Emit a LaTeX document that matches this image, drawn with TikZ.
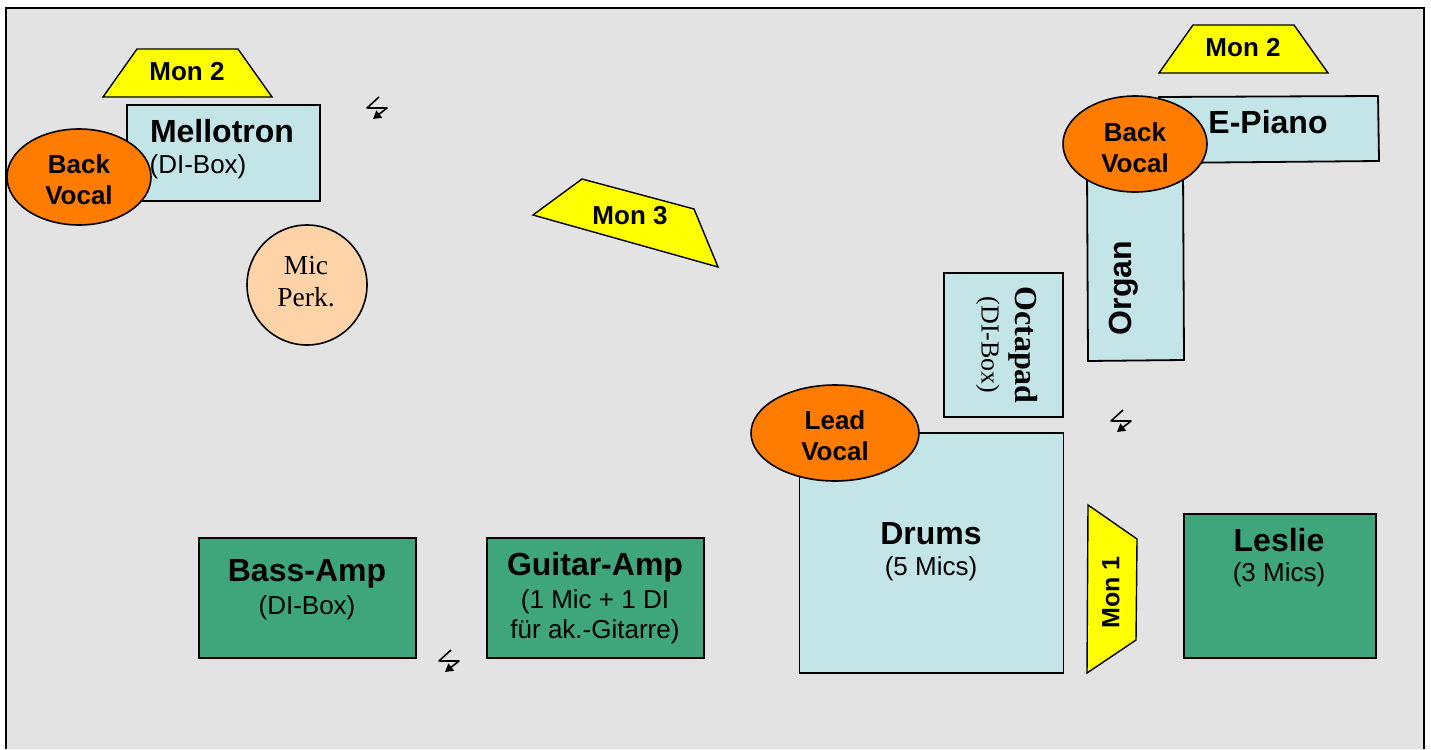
\documentclass[tikz,border=0pt]{standalone}
\usepackage{fontspec}
\setmainfont{Liberation Sans}
\newfontfamily\serifface{Liberation Serif}
\usetikzlibrary{shapes.geometric,arrows.meta}
\definecolor{bgc}{RGB}{227,227,227}
\definecolor{icec}{RGB}{196,229,232}
\definecolor{orangec}{RGB}{255,124,0}
\definecolor{greenc}{RGB}{62,166,122}
\definecolor{peachc}{RGB}{255,211,168}
\definecolor{yellowc}{RGB}{255,255,0}
\newcommand{\bigbf}{\fontsize{32}{33}\selectfont\bfseries}
\newcommand{\smalltx}{\fontsize{26}{33}\selectfont\mdseries}
\tikzset{
  x=1pt,y=-1pt,
  icebox/.style={draw=black,line width=1.8pt,fill=icec,inner sep=0pt,outer sep=0pt},
  ampbox/.style={draw=black,line width=1.8pt,fill=greenc,inner sep=0pt,outer sep=0pt},
  monshape/.style={draw=black,line width=1.4pt,fill=yellowc,line join=miter},
  vocal/.style={draw=black,line width=1.6pt,fill=orangec,ellipse,inner sep=0pt,outer sep=0pt,
    minimum width=144pt,minimum height=96pt},
  vocaltxt/.style={inner sep=0pt,outer sep=0pt,align=center,font=\fontsize{26}{31}\selectfont\bfseries},
  micshape/.style={draw=black,line width=1.6pt,fill=peachc,circle,inner sep=0pt,outer sep=0pt,
    minimum size=120pt},
  mictxt/.style={inner sep=0pt,outer sep=0pt,align=center,font=\fontsize{27.5}{32}\selectfont\serifface},
  lab/.style={inner sep=0pt,outer sep=0pt,align=center,text=black,font=\fontsize{26}{31}\selectfont},
  monlab/.style={lab,font=\fontsize{26}{31}\selectfont\bfseries},
  bolt/.style={draw=black,line width=1.6pt,line join=round,-{Triangle[length=8pt,width=9pt]}},
}
\newcommand{\boltat}[1]{\draw[bolt,shift={(#1)}] (2,-12) -- (-10,-1) -- (10,-1) -- (-4,10);}
\begin{document}
\begin{tikzpicture}
\useasboundingbox (0,0) rectangle (1431,749);
\fill[bgc] (6,8) rectangle (1424,749);
\draw[black,line width=2pt] (6,749) -- (6,8) -- (1424,8) -- (1424,749);

% boxes
\node[icebox,minimum width=193pt,minimum height=96pt] (mellotron) at (223.5,153) {};
\draw[icebox] (1159,97) -- (1378,96) -- (1379,161) -- (1159,163) -- cycle;
\draw[icebox] (1087,170) -- (1183,170) -- (1184,360) -- (1088,361) -- cycle;
\node[icebox,minimum width=119pt,minimum height=144pt] (octapad) at (1003.5,345) {};
\node[icebox,minimum width=264pt,minimum height=240pt] (drums) at (931.5,553) {};
\node[ampbox,minimum width=192pt,minimum height=144pt] (leslie) at (1280,586) {};
\node[ampbox,minimum width=217pt,minimum height=120pt] (bass) at (307.5,598) {};
\node[ampbox,minimum width=217pt,minimum height=120pt] (guitar) at (595.5,598) {};

% monitors
\draw[monshape] (103,97) -- (137,49) -- (238,49) -- (272,97) -- cycle;
\draw[monshape] (1159,73) -- (1193,25) -- (1294,25) -- (1328,73) -- cycle;
\draw[monshape] (533,215) -- (582,179) -- (694,209) -- (718,267) -- cycle;
\draw[monshape] (1088,505) -- (1137,539) -- (1136,640) -- (1087,673) -- cycle;
\node[monlab] (mon2a) at (187,72) {Mon 2};
\node[monlab] (mon2b) at (1243,48) {Mon 2};
\node[monlab] (mon3) at (630,216) {Mon 3};
\node[monlab,rotate=90,font=\fontsize{25}{31}\selectfont\bfseries] (mon1) at (1111,592.5) {Mon 1};

% vocals and mic
\node[vocal] (backa) at (79,177) {};
\node[vocaltxt] (backatxt) at (79,180) {Back\\Vocal};
\node[vocal] (backb) at (1135,144) {};
\node[vocaltxt] (backbtxt) at (1135,148) {Back\\Vocal};
\node[vocal,minimum width=168pt] (lead) at (835,433) {};
\node[vocaltxt] (leadtxt) at (835,436) {Lead\\Vocal};
\node[micshape] (mic) at (307,285) {};
\node[mictxt] (mictext) at (306,282) {Mic\\Perk.};

% labels
\node[lab] (mellotxt) at (222,149.5) {\bigbf Mellotron\\\smalltx\hspace*{-48pt}(DI-Box)};
\node[lab] (pianotxt) at (1268,122) {\bigbf E-Piano};
\node[lab,rotate=90] (organtxt) at (1124,288) {\bigbf Organ};
\node[lab,rotate=-90,font=\fontsize{26}{34}\selectfont\serifface] (octatxt) at (1007,345) {\fontsize{32}{36}\selectfont\bfseries Octapad\\\fontsize{26}{36}\selectfont\mdseries (DI-Box)};
\node[lab] (drumstxt) at (931,551.5) {\bigbf Drums\\\smalltx (5 Mics)};
\node[lab,font=\fontsize{26}{30}\selectfont] (leslietxt) at (1279,558) {\bigbf Leslie\\\smalltx (3 Mics)};
\node[lab,font=\fontsize{26}{33}\selectfont] (basstxt) at (307,589.5) {\bigbf Bass-Amp\\\smalltx (DI-Box)};
\node[lab,font=\fontsize{26}{33}\selectfont] (guitartxt) at (595,598.5) {\bigbf Guitar-Amp\\\smalltx (1 Mic + 1 DI\\[-3pt]\smalltx für ak.-Gitarre)};

% bolts
\boltat{377,109}
\boltat{1121,422}
\boltat{449,662}
\end{tikzpicture}
\end{document}
